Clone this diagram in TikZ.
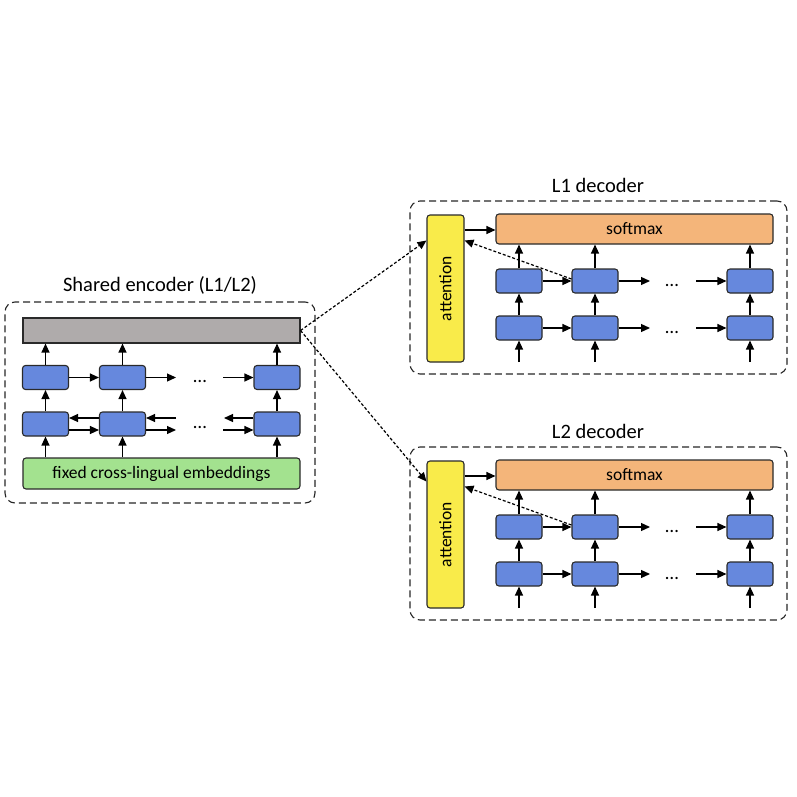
\documentclass[tikz,border=0pt]{standalone}
\usepackage{fontspec}
\setmainfont{Carlito}
\usetikzlibrary{arrows.meta}
\definecolor{cgray}{HTML}{AFABAB}
\definecolor{cblue}{HTML}{6688DD}
\definecolor{cgreen}{HTML}{A3E28F}
\definecolor{corange}{HTML}{F4B57A}
\definecolor{cyellow}{HTML}{F9EB4A}
\definecolor{cline}{HTML}{2A2A2A}
\tikzset{
  blk/.style={draw=cline, line width=1.1pt, rounded corners=3pt, inner sep=0pt, font=\fontsize{17.5}{20}\selectfont},
  rnn/.style={blk, fill=cblue, minimum width=46pt, minimum height=24pt},
  container/.style={draw=black!85, line width=1.1pt, dash pattern=on 7pt off 4pt, rounded corners=10pt},
  ttl/.style={font=\fontsize{20.5}{24}\selectfont},
  arr/.style={line width=1.2pt, -{Triangle[length=9pt,width=8pt]}},
  darr/.style={line width=1.2pt, dash pattern=on 3pt off 2pt, -{Triangle[length=9pt,width=8pt]}},
  dots/.style={font=\fontsize{19}{22}\selectfont, inner sep=0pt}
}
\begin{document}
\begin{tikzpicture}[x=1pt,y=-1pt]
\useasboundingbox (0,0) rectangle (797,797);

% ---------------- Encoder ----------------
\node[container, minimum width=310pt, minimum height=201pt, inner sep=0pt] (encbox) at (160,402.5) {};
\node[ttl] (enctitle) at (160,285) {Shared encoder (L1/L2)};
\node[blk, fill=cgray, rounded corners=0pt, minimum width=277pt, minimum height=25pt] (gray) at (161.5,330.5) {};
\node[blk, fill=cgreen, minimum width=277pt, minimum height=31pt] (emb) at (161.5,473.5) {fixed cross-lingual embeddings};
\node[rnn] (e21) at (45.5,377.5) {};
\node[rnn] (e22) at (122.5,377.5) {};
\node[rnn] (e23) at (277,377.5) {};
\node[rnn] (e11) at (45.5,424) {};
\node[rnn] (e12) at (122.5,424) {};
\node[rnn] (e13) at (277,424) {};
\node[dots] (edots2) at (200,381) {…};
\node[dots] (edots1) at (200,427) {…};

\coordinate (eu1) at (176,377.5);
\coordinate (eu2) at (223,377.5);
\coordinate (el1) at (176,418);
\coordinate (el2) at (224,418);
\coordinate (el3) at (176,430);
\coordinate (el4) at (223,430);

\foreach \a/\b in {e11/e21,e12/e22,e13/e23}{
  \draw[arr] (emb.north -| \a) -- (\a.south);
  \draw[arr] (\a.north) -- (\b.south);
  \draw[arr] (\b.north) -- (gray.south -| \b);
}
\draw[arr] (e21.east) -- (e22.west);
\draw[arr] (e22.east) -- (eu1);
\draw[arr] (eu2) -- (e23.west);
% backward
\draw[arr] (e12.west |- el1) -- (e11.east |- el1);
\draw[arr] (el1) -- (e12.east |- el1);
\draw[arr] (e13.west |- el1) -- (el2);
% forward
\draw[arr] (e11.east |- el3) -- (e12.west |- el3);
\draw[arr] (e12.east |- el3) -- (el3);
\draw[arr] (el4) -- (e13.west |- el4);

% ---------------- Decoders ----------------
\foreach \n/\t/\dy in {A/L1/0, B/L2/246}{
  \begin{scope}[yshift=-\dy pt]
  \node[container, minimum width=377pt, minimum height=173pt, inner sep=0pt] (box\n) at (598.5,287.5) {};
  \node[ttl] (title\n) at (598,185) {\t\ decoder};
  \node[blk, fill=cyellow, minimum width=37pt, minimum height=147pt] (att\n) at (445.5,288.5) {};
  \node[font=\fontsize{17.5}{20}\selectfont, rotate=90] (attlab\n) at (att\n.center) {attention};
  \node[blk, fill=corange, minimum width=277pt, minimum height=30pt] (soft\n) at (634.5,229) {softmax};
  \node[rnn] (u1\n) at (519,281) {};
  \node[rnn] (u2\n) at (595,281) {};
  \node[rnn] (u3\n) at (750,281) {};
  \node[rnn] (l1\n) at (519,328) {};
  \node[rnn] (l2\n) at (595,328) {};
  \node[rnn] (l3\n) at (750,328) {};
  \node[dots] (ddu\n) at (672,285) {…};
  \node[dots] (ddl\n) at (672,332) {…};
  \coordinate (in1\n) at (519,362);
  \coordinate (in2\n) at (595,362);
  \coordinate (in3\n) at (750,362);
  \coordinate (ua\n) at (650,281);
  \coordinate (ub\n) at (696,281);
  \coordinate (la\n) at (650,328);
  \coordinate (lb\n) at (696,328);
  \draw[arr] (in1\n) -- (l1\n.south);
  \draw[arr] (in2\n) -- (l2\n.south);
  \draw[arr] (in3\n) -- (l3\n.south);
  \draw[arr] (l1\n.north) -- (u1\n.south);
  \draw[arr] (l2\n.north) -- (u2\n.south);
  \draw[arr] (l3\n.north) -- (u3\n.south);
  \draw[arr] (u1\n.north) -- (soft\n.south -| u1\n);
  \draw[arr] (u2\n.north) -- (soft\n.south -| u2\n);
  \draw[arr] (u3\n.north) -- (soft\n.south -| u3\n);
  \draw[arr] (u1\n.east) -- (u2\n.west);
  \draw[arr] (u2\n.east) -- (ua\n);
  \draw[arr] (ub\n) -- (u3\n.west);
  \draw[arr] (l1\n.east) -- (l2\n.west);
  \draw[arr] (l2\n.east) -- (la\n);
  \draw[arr] (lb\n) -- (l3\n.west);
  \draw[arr] ([yshift=-1pt]att\n.east |- soft\n.west) -- ([yshift=-1pt]soft\n.west);
  \draw[darr] ([yshift=2pt]u2\n.west) -- ([yshift=48pt]att\n.east);
  \end{scope}
}
\draw[darr] (gray.east) -- ([yshift=48pt]attA.west);
\draw[darr] (gray.east) -- ([yshift=53pt]attB.west);
\end{tikzpicture}
\end{document}
